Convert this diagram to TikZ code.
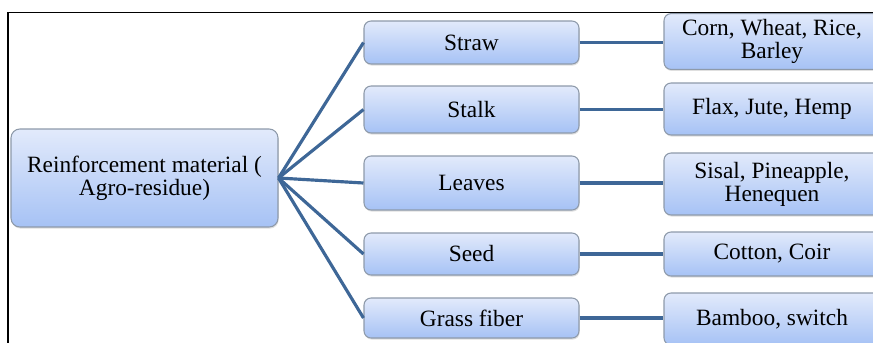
\documentclass[tikz,border=0pt]{standalone}
\usepackage{fontspec}
\setmainfont{Liberation Serif}
\newfontfamily\boxfont{Liberation Serif}
\usetikzlibrary{shadows}

\definecolor{boxtop}{HTML}{E2EAFB}
\definecolor{boxbot}{HTML}{A6C2F5}
\definecolor{boxline}{HTML}{8E9AAA}
\definecolor{linkblue}{HTML}{3E6797}

\begin{document}
\begin{tikzpicture}[x=0.02cm, y=-0.02cm,
  box/.style={draw=boxline, line width=0.6pt, rounded corners=4pt,
    top color=boxtop, bottom color=boxbot, align=center,
    font=\boxfont\fontsize{13.3}{13}\selectfont,
    drop shadow={opacity=0.25, shadow xshift=0.4pt, shadow yshift=-0.9pt}},
  midbox/.style={box, minimum width=4.3cm},
  endbox/.style={box, minimum width=4.32cm},
  link/.style={draw=linkblue, line width=1.8pt}]
\useasboundingbox (0,0) rectangle (873,342);
\clip (0,0) rectangle (873,342);

% frame
\draw[line width=1.1pt] (8,343) -- (8,12.5) -- (874,12.5);

% root
\node[box, rounded corners=5pt, minimum width=5.34cm, minimum height=1.96cm] (root) at (144.5,178)
  {Reinforcement material (\\Agro-residue)};

% middle column
\node[midbox, minimum height=0.86cm] (straw) at (471.5,42.5) {Straw};
\node[midbox, minimum height=0.94cm] (stalk) at (471.5,109.5) {Stalk};
\node[midbox, minimum height=1.08cm] (leaves) at (471.5,183) {Leaves};
\node[midbox, minimum height=0.84cm] (seed) at (471.5,254) {Seed};
\node[midbox, minimum height=0.80cm] (grass) at (471.5,318) {Grass fiber};

% right column
\node[endbox, minimum height=1.02cm] (cereal) at (772,41.5) {Corn, Wheat, Rice,\\Barley};
\node[endbox, minimum height=1.04cm] (bast) at (772,109) {Flax, Jute, Hemp};
\node[endbox, minimum height=1.24cm] (leaf) at (772,184) {Sisal, Pineapple,\\Henequen};
\node[endbox, minimum height=0.88cm] (fruit) at (772,254) {Cotton, Coir};
\node[endbox, minimum height=1.04cm] (grasses) at (772,319) {Bamboo, switch};

% links
\coordinate (hub) at (root.east);
\foreach \m/\e in {straw/cereal, stalk/bast, leaves/leaf, seed/fruit, grass/grasses} {
  \draw[link] (hub) -- (\m.west);
  \draw[link] (\m.east) -- (\m.east -| \e.west);
}
\end{tikzpicture}
\end{document}
